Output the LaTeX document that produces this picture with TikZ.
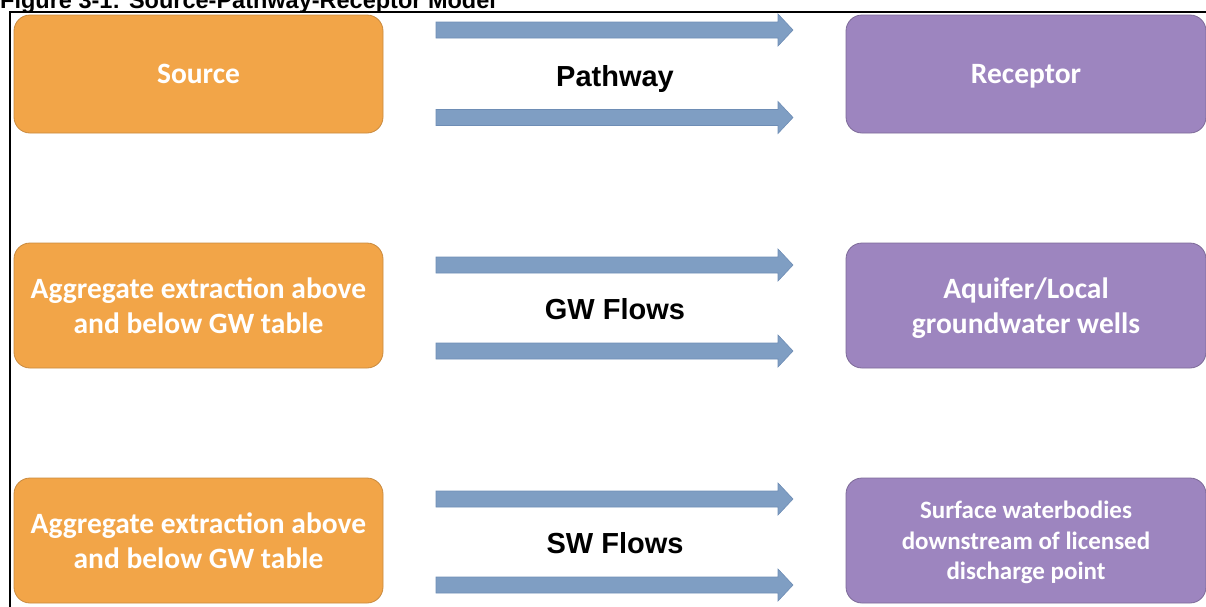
\documentclass[tikz,border=0pt]{standalone}
\usepackage{fontspec}
\setmainfont{Carlito}
\newfontfamily\arialb{Liberation Sans}[BoldFont={* Bold}]
\begin{document}
\begin{tikzpicture}[x=1pt,y=-1pt,
  srcbox/.style={rectangle, rounded corners=16pt, draw=orangeedge, line width=0.8pt, fill=orangefill,
    minimum width=369pt, inner sep=0pt, text=white, align=center,
    font=\fontsize{29.5}{35}\selectfont\bfseries},
  recbox/.style={rectangle, rounded corners=16pt, draw=purpleedge, line width=0.8pt, fill=purplefill,
    minimum width=360pt, inner sep=0pt, text=white, align=center, text depth=0pt,
    font=\fontsize{29.5}{35}\selectfont\bfseries},
  flowarrow/.style={fill=arrowfill, draw=arrowedge, line width=0.6pt},
  pathlabel/.style={font=\arialb\bfseries\fontsize{29}{31}\selectfont, text=black, inner sep=0pt, text depth=0pt},
  frameline/.style={draw=black, line width=2pt}
]
\definecolor{orangefill}{HTML}{F2A548}
\definecolor{orangeedge}{HTML}{C98A3E}
\definecolor{purplefill}{HTML}{9D85BF}
\definecolor{purpleedge}{HTML}{7D6A98}
\definecolor{arrowfill}{HTML}{7F9EC3}
\definecolor{arrowedge}{HTML}{6E8DB5}
\useasboundingbox (0,0) rectangle (1206,606);
\clip (0,0) rectangle (1206,606);
% title (cut off at the top)
\node[anchor=base west, inner sep=0pt, font=\arialb\bfseries\fontsize{23.5}{25}\selectfont] (title) at (0,8) {Figure 3-1: Source-Pathway-Receptor Model};
% frame
\draw[frameline] (9,12) -- (1210,12);
\draw[frameline] (10,11) -- (10,610);
% row 1
\node[srcbox, minimum height=118pt] (s1) at (198.5,74) {Source};
\node[recbox, minimum height=118pt] (r1) at (1026,74) {Receptor};
\node[pathlabel] (p1) at (615,76) {Pathway};
% row 2
\node[srcbox, minimum height=125pt] (s2) at (198.5,305.5) {Aggregate extraction above\\and below GW table};
\node[recbox, minimum height=125pt] (r2) at (1026,305.5) {Aquifer/Local\\groundwater wells};
\node[pathlabel] (p2) at (615,309) {GW Flows};
% row 3
\node[srcbox, minimum height=125pt] (s3) at (198.5,540.5) {Aggregate extraction above\\and below GW table};
\node[recbox, minimum height=125pt, font=\fontsize{25}{30.5}\selectfont\bfseries] (r3) at (1026,540.5) {Surface waterbodies\\downstream of licensed\\discharge point};
\node[pathlabel] (p3) at (615,543) {SW Flows};
% arrows
\foreach \yc in {30, 117.5, 265, 351, 499, 585}{
  \draw[flowarrow] (436,\yc-8) -- (778,\yc-8) -- (778,\yc-16) -- (793,\yc) -- (778,\yc+16) -- (778,\yc+8) -- (436,\yc+8) -- cycle;
}
\end{tikzpicture}
\end{document}
